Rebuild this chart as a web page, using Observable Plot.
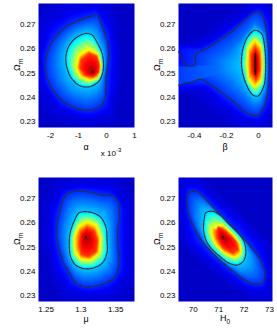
<!DOCTYPE html>
<html><head><meta charset="utf-8">
<script src="https://cdn.jsdelivr.net/npm/d3@7"></script>
<script src="https://cdn.jsdelivr.net/npm/@observablehq/plot@0.6"></script>
<style>
body{margin:0;background:#fff;}
#wrap{position:relative;width:277px;height:332px;font-family:"Liberation Sans",Arial,sans-serif;}
#wrap svg{position:absolute;overflow:visible;}
</style></head><body><div id="wrap"></div>
<script>
// ---------- shared ----------
const omegaDomain = [0.2274, 0.2788];
const omegaTicks = [0.23, 0.24, 0.25, 0.26, 0.27];
// density levels (fraction of the jet colormap)
const levelPeak = 0.97, levelCore = 0.92, levelRed = 0.82, levelYellow = 0.62, level68 = 0.32, levelMid = 0.23, level95 = 0.17, levelHalo = 0.1, levelBg = 0.07;
const jetStops = ["#000080","#0000ff","#0080ff","#00ffff","#80ff80","#ffff00","#ff8000","#ff0000","#800000"];

// ---------- panel alpha ----------
const alphaDomain = [-2.43, 1.0];
const alphaTicks = [-2, -1, 0, 1];
const alphaPeak = [-0.49, 0.2503];
const alpha95 = [[-0.353,0.2738],[-0.765,0.2726],[-1.235,0.2706],[-1.647,0.2671],[-1.941,0.2629],[-2.118,0.2581],[-2.176,0.2532],[-2.118,0.2483],[-1.941,0.2435],[-1.647,0.2393],[-1.235,0.2361],[-0.824,0.2346],[-0.529,0.2348],[-0.235,0.2361],[-0.059,0.2393],[-0.024,0.2442],[-0.01,0.2490],[0.04,0.2532],[0.07,0.2581],[0.02,0.2636],[-0.15,0.2692],[-0.271,0.2726]];
const alpha68 = [[-0.70,0.2664],[-0.51,0.2657],[-0.33,0.2625],[-0.16,0.2582],[-0.11,0.2540],[-0.14,0.2500],[-0.28,0.2465],[-0.60,0.2443],[-0.95,0.2447],[-1.25,0.2478],[-1.42,0.2525],[-1.45,0.2570],[-1.37,0.2605],[-1.18,0.2637],[-0.93,0.2657]];
const alphaYellow = [[-0.647,0.2597],[-0.965,0.2574],[-1.082,0.2525],[-0.941,0.2486],[-0.588,0.2469],[-0.28,0.2481],[-0.20,0.2525],[-0.30,0.2578]];
const alphaRed = [[-0.612,0.2581],[-0.918,0.2553],[-0.941,0.2518],[-0.765,0.2490],[-0.471,0.2483],[-0.26,0.2504],[-0.25,0.2539],[-0.353,0.2569]];
const alphaHalo = [[-0.412,0.2782],[-1.412,0.2754],[-2.118,0.2692],[-2.376,0.2581],[-2.294,0.2456],[-1.765,0.2351],[-0.706,0.2310],[0.118,0.2331],[0.294,0.2442],[0.353,0.2567],[0.176,0.2706]];
const alphaBest = [[-0.49,0.2503]];

// ---------- panel beta ----------
const betaDomain = [-0.5, 0.088];
const betaTicks = [-0.4, -0.2, 0];
const betaPeak = [-0.017, 0.2535];
const beta95 = [[-0.56,0.2595],[-0.501,0.2587],[-0.470,0.2546],[-0.439,0.2528],[-0.402,0.2532],[-0.386,0.2580],[-0.336,0.2597],[-0.274,0.2622],[-0.212,0.2649],[-0.151,0.2680],[-0.089,0.2716],[-0.037,0.2746],[-0.006,0.2753],[0.025,0.2739],[0.045,0.2691],[0.060,0.2622],[0.066,0.2553],[0.066,0.2483],[0.056,0.2414],[0.035,0.2359],[-0.006,0.2324],[-0.058,0.2331],[-0.120,0.2362],[-0.181,0.2394],[-0.243,0.2425],[-0.305,0.2456],[-0.357,0.2474],[-0.381,0.2472],[-0.408,0.2463],[-0.449,0.2459],[-0.501,0.2449],[-0.56,0.2445]];
const betaMid = [[-0.02,0.2712],[0.045,0.2665],[0.056,0.2590],[0.056,0.2490],[0.045,0.2420],[0.015,0.2370],[-0.03,0.2362],[-0.10,0.2405],[-0.18,0.2455],[-0.26,0.2505],[-0.26,0.2550],[-0.18,0.2598],[-0.10,0.2650]];
const beta68 = [[-0.023,0.2677],[0.019,0.2663],[0.039,0.2608],[0.045,0.2525],[0.035,0.2449],[-0.002,0.2405],[-0.037,0.2410],[-0.078,0.2456],[-0.105,0.2525],[-0.099,0.2594],[-0.068,0.2649]];
const betaYellow = [[-0.023,0.2636],[0.019,0.2608],[0.027,0.2539],[0.019,0.2470],[-0.023,0.2442],[-0.064,0.2477],[-0.070,0.2539],[-0.064,0.2601]];
const betaRed = [[-0.019,0.2608],[0.006,0.2573],[0.010,0.2511],[-0.014,0.2470],[-0.043,0.2504],[-0.047,0.2573]];
const betaCore = [[-0.017,0.2585],[-0.009,0.2555],[-0.009,0.2515],[-0.017,0.2490],[-0.025,0.2515],[-0.025,0.2555]];
const betaHalo = [[-0.60,0.2620],[-0.501,0.2615],[-0.388,0.2608],[-0.274,0.2647],[-0.151,0.2708],[-0.058,0.2753],[0.004,0.2781],[0.076,0.2746],[0.107,0.2608],[0.107,0.2456],[0.087,0.2345],[0.004,0.2290],[-0.089,0.2304],[-0.212,0.2359],[-0.346,0.2439],[-0.439,0.2435],[-0.501,0.2425],[-0.60,0.2420]];
const betaBest = [[-0.019,0.2496],[-0.019,0.2579]];

// ---------- panel mu ----------
const muDomain = [1.239, 1.377];
const muTicks = [1.25, 1.3, 1.35];
const muPeak = [1.3072, 0.2541];
const mu95 = [[1.2832,0.2725],[1.3,0.2731],[1.3168,0.2725],[1.3313,0.2714],[1.3457,0.2711],[1.3538,0.2684],[1.3553,0.2629],[1.3529,0.2573],[1.3529,0.2518],[1.3543,0.2463],[1.3538,0.2414],[1.3481,0.2373],[1.3337,0.2349],[1.3168,0.2336],[1.3024,0.2338],[1.2904,0.2359],[1.2832,0.2394],[1.275,0.2435],[1.2688,0.2490],[1.2654,0.2546],[1.2663,0.2601],[1.2702,0.2656],[1.275,0.2698]];
const mu68 = [[1.3024,0.2646],[1.3168,0.2642],[1.3288,0.2622],[1.3361,0.2580],[1.3375,0.2532],[1.3375,0.2477],[1.3313,0.2435],[1.3192,0.2414],[1.3048,0.2410],[1.2928,0.2424],[1.2856,0.2456],[1.2832,0.2504],[1.2846,0.2559],[1.2904,0.2608],[1.2966,0.2640]];
const muYellow = [[1.3087,0.2604],[1.3216,0.2590],[1.3279,0.2539],[1.3264,0.2477],[1.3144,0.2446],[1.3,0.2449],[1.2913,0.2483],[1.2904,0.2539],[1.2962,0.2583]];
const muRed = [[1.3087,0.2580],[1.3192,0.2566],[1.324,0.2525],[1.3216,0.2479],[1.3106,0.2460],[1.3,0.2470],[1.2976,0.2518],[1.3,0.2559]];
const muHalo = [[1.3,0.2760],[1.3433,0.2753],[1.3649,0.2670],[1.3663,0.2518],[1.3663,0.2394],[1.3433,0.2314],[1.3096,0.2304],[1.2808,0.2325],[1.264,0.2408],[1.2558,0.2532],[1.2567,0.2656],[1.2712,0.2739]];
const muBest = [[1.3072,0.2541]];

// ---------- panel H0 ----------
const h0Domain = [69.42, 73.12];
const h0Ticks = [70, 71, 72, 73];
const h0Peak = [71.17, 0.2541];
const h095 = [[69.843,0.2725],[70.144,0.2729],[70.433,0.2704],[70.826,0.2659],[71.324,0.2604],[71.809,0.2553],[72.294,0.2497],[72.661,0.2442],[72.818,0.2387],[72.726,0.2352],[72.333,0.2349],[71.94,0.2369],[71.547,0.2401],[71.153,0.2435],[70.76,0.2474],[70.367,0.2521],[70.039,0.2580],[69.817,0.2642],[69.777,0.2691]];
const h068 = [[70.498,0.2642],[70.76,0.2648],[71.088,0.2629],[71.455,0.2590],[71.769,0.2557],[72.005,0.2521],[72.071,0.2477],[71.979,0.2442],[71.743,0.2425],[71.376,0.2435],[71.062,0.2460],[70.721,0.2493],[70.498,0.2529],[70.406,0.2573],[70.433,0.2617]];
const h0Yellow = [[70.826,0.2577],[71.153,0.2590],[71.547,0.2553],[71.848,0.2511],[71.874,0.2474],[71.638,0.2456],[71.245,0.2474],[70.891,0.2511],[70.721,0.2553],[70.721,0.2590]];
const h0Red = [[70.957,0.2587],[71.284,0.2566],[71.678,0.2525],[71.769,0.2490],[71.547,0.2474],[71.153,0.2497],[70.931,0.2539]];
const h0Halo = [[69.70,0.2760],[70.25,0.2758],[71.00,0.2688],[71.95,0.2600],[72.75,0.2510],[73.00,0.2390],[72.857,0.2318],[72.20,0.2318],[71.40,0.2375],[70.50,0.2450],[69.80,0.2520],[69.62,0.2642],[69.62,0.2711]];
const h0Best = [[71.17,0.2541]];

// ---------- density field from the read contour rings ----------
// first crossing of the ray C + t*d with a closed ring
function rayHit(C, dx, dy, ring) {
  let best = Infinity;
  const n = ring.length;
  for (let i = 0; i < n; i++) {
    const A = ring[i], B = ring[(i + 1) % n];
    const ex = B[0] - A[0], ey = B[1] - A[1];
    const den = dx * ey - dy * ex;
    if (den === 0) continue;
    const wx = A[0] - C[0], wy = A[1] - C[1];
    const t = (wx * ey - wy * ex) / den;
    const s = (wx * dy - wy * dx) / den;
    if (s >= 0 && s <= 1 && t > 0 && t < best) best = t;
  }
  return best;
}
function densityField(C, rings) {
  return (x, y) => {
    const dx = x - C[0], dy = y - C[1];
    if (dx === 0 && dy === 0) return levelPeak;
    let tPrev = 0, vPrev = levelPeak;
    for (const [ring, v] of rings) {
      let t = rayHit(C, dx, dy, ring);
      if (!isFinite(t)) continue;
      if (t <= tPrev) t = tPrev + 1e-6;
      if (t >= 1) return vPrev + (v - vPrev) * (1 - tPrev) / (t - tPrev);
      tPrev = t; vPrev = v;
    }
    const f = Math.max(0, 1 - (1 - tPrev) / (0.3 * tPrev));
    return levelBg + (vPrev - levelBg) * f;
  };
}

const fmtX = d => String(d);
const fmtY = d => d.toFixed(2);

function makePanel(o) {
  const ml = 38, mt = 3, mr = 3, mb = o.height - mt - 124;
  const field = densityField(o.peak, o.rings);
  const marks = [
    Plot.raster({fill: field, x1: o.xDomain[0], x2: o.xDomain[1], y1: omegaDomain[0], y2: omegaDomain[1], pixelSize: 1}),
    ...o.lines.map(r => Plot.line(r, {x: d => d[0], y: d => d[1], curve: "catmull-rom-closed",
      stroke: "#2e2e2e", strokeWidth: 1.1, strokeDasharray: "3,1", clip: true}))
  ];
  if (o.segment) marks.push(Plot.line(o.best, {x: d => d[0], y: d => d[1], stroke: "#000", strokeWidth: 1.5}));
  else marks.push(Plot.dot(o.best, {x: d => d[0], y: d => d[1], r: 1.1, fill: "#111", stroke: "none"}));
  const chart = Plot.plot({
    width: o.width, height: o.height,
    marginLeft: ml, marginTop: mt, marginRight: mr, marginBottom: mb,
    style: {fontFamily: '"Liberation Sans", Arial, sans-serif', fontSize: "8px", background: "transparent", color: "#000"},
    x: {domain: o.xDomain, ticks: o.xTicks, tickFormat: fmtX, tickSize: 0, tickPadding: 5, label: null},
    y: {domain: omegaDomain, ticks: omegaTicks, tickFormat: fmtY, tickSize: 0, tickPadding: 3, label: null},
    color: {type: "linear", domain: d3.range(jetStops.length).map(i => i / (jetStops.length - 1)), range: jetStops, interpolate: "rgb"},
    marks
  });
  chart.style.left = o.left + "px";
  chart.style.top = o.top + "px";
  const svg = d3.select(chart);
  const cx = ml + (o.width - ml - mr) / 2;
  const xl = svg.append("text").attr("x", cx).attr("y", o.labelY).attr("text-anchor", "middle")
    .attr("font-size", 9).attr("fill", "#000").text(o.xLabel);
  if (o.xSub) xl.append("tspan").attr("dy", 2.5).attr("font-size", 6.5).text(o.xSub);
  const yl = svg.append("text").attr("transform", `translate(20,${mt + 62}) rotate(-90)`).attr("text-anchor", "middle")
    .attr("font-size", 9).attr("fill", "#000").text("Ω");
  yl.append("tspan").attr("dy", 2.5).attr("font-size", 6.5).text("m");
  if (o.exponent) {
    const t = svg.append("text").attr("x", 111).attr("y", 156).attr("font-size", 8).attr("fill", "#000").text("x 10");
    t.append("tspan").attr("dy", -4.5).attr("font-size", 6).text(o.exponent);
  }
  document.getElementById("wrap").appendChild(chart);
}

makePanel({left: 0, top: 0, width: 137, height: 165, xDomain: alphaDomain, xTicks: alphaTicks, xLabel: "α", labelY: 150, exponent: "-3",
  peak: alphaPeak, rings: [[alphaRed, levelRed], [alphaYellow, levelYellow], [alpha68, level68], [alpha95, level95], [alphaHalo, levelHalo]],
  lines: [alpha95, alpha68], best: alphaBest});
makePanel({left: 140, top: 0, width: 135, height: 165, xDomain: betaDomain, xTicks: betaTicks, xLabel: "β", labelY: 150,
  peak: betaPeak, rings: [[betaCore, levelCore], [betaRed, levelRed], [betaYellow, levelYellow], [beta68, level68], [betaMid, levelMid], [beta95, level95], [betaHalo, levelHalo]],
  lines: [beta95, beta68], best: betaBest, segment: true});
makePanel({left: 0, top: 174, width: 137, height: 158, xDomain: muDomain, xTicks: muTicks, xLabel: "μ", labelY: 148,
  peak: muPeak, rings: [[muRed, levelRed], [muYellow, levelYellow], [mu68, level68], [mu95, level95], [muHalo, levelHalo]],
  lines: [mu95, mu68], best: muBest});
makePanel({left: 140, top: 174, width: 135, height: 158, xDomain: h0Domain, xTicks: h0Ticks, xLabel: "H", xSub: "0", labelY: 147,
  peak: h0Peak, rings: [[h0Red, levelRed], [h0Yellow, levelYellow], [h068, level68], [h095, level95], [h0Halo, levelHalo]],
  lines: [h095, h068], best: h0Best});
</script></body></html>
